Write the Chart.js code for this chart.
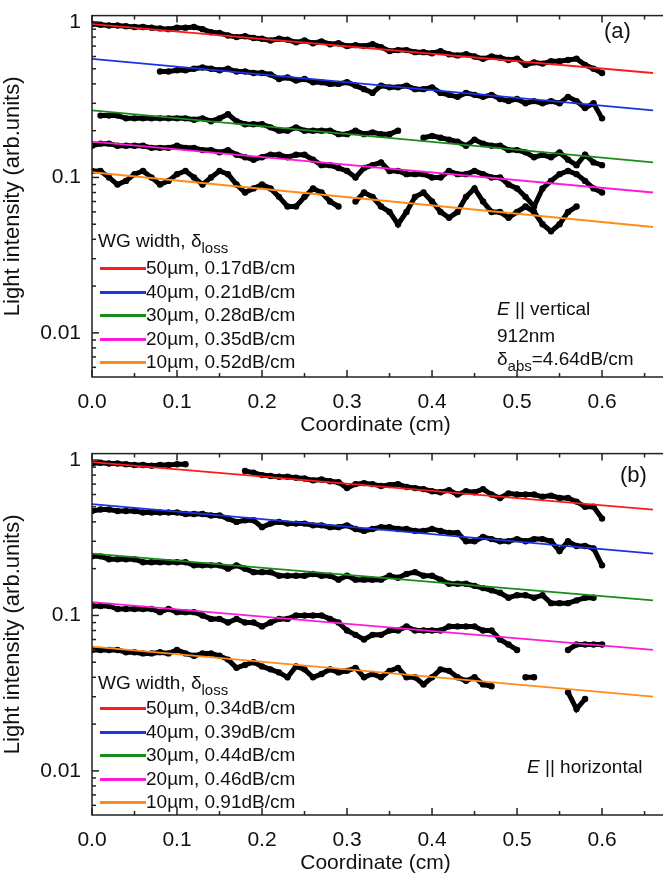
<!DOCTYPE html>
<html><head><meta charset="utf-8">
<script src="https://cdn.jsdelivr.net/npm/chart.js@4"></script>
<style>
body{margin:0;background:#fff;font-family:"Liberation Sans",Arial,sans-serif;}
.p{position:relative;width:663px;height:438px;}
.t{position:absolute;font-size:19px;color:#111;white-space:nowrap;line-height:22px;}
.l{position:absolute;height:3px;width:46px;}
sub{font-size:15px;vertical-align:-6px;line-height:0}
</style></head><body>
<div class="p"><canvas id="ca" width="663" height="438"></canvas>
<div class="t" style="left:604px;top:20px;font-size:22px">(a)</div>
<div class="t" style="left:98px;top:230px">WG width, δ<sub>loss</sub></div>
<div id="lega"></div>
<div class="t" style="left:497px;top:298px"><i>E</i> || vertical</div>
<div class="t" style="left:497px;top:325px">912nm</div>
<div class="t" style="left:497px;top:348px">δ<sub>abs</sub>=4.64dB/cm</div>
</div>
<div class="p"><canvas id="cb" width="663" height="438"></canvas>
<div class="t" style="left:620px;top:26px;font-size:22px">(b)</div>
<div class="t" style="left:98px;top:234px">WG width, δ<sub>loss</sub></div>
<div id="legb"></div>
<div class="t" style="left:527px;top:318px"><i>E</i> || horizontal</div>
</div>
<script>
var coords = [0,0.01,0.02,0.03,0.04,0.05,0.06,0.07,0.08,0.09,0.1,0.11,0.12,0.13,0.14,0.15,0.16,0.17,0.18,0.19,
  0.2,0.21,0.22,0.23,0.24,0.25,0.26,0.27,0.28,0.29,0.3,0.31,0.32,0.33,0.34,0.35,0.36,0.37,0.38,0.39,
  0.4,0.41,0.42,0.43,0.44,0.45,0.46,0.47,0.48,0.49,0.5,0.51,0.52,0.53,0.54,0.55,0.56,0.57,0.58,0.59,0.6];
var widths = ['50µm','40µm','30µm','20µm','10µm'];
var colors = ['#ff1a1a','#1a33e6','#1a8c1a','#ff1ad9','#ff8c1a'];
var lossA = ['0.17dB/cm','0.21dB/cm','0.28dB/cm','0.35dB/cm','0.52dB/cm'];
var lossB = ['0.34dB/cm','0.39dB/cm','0.44dB/cm','0.46dB/cm','0.91dB/cm'];
var fitX = [0, 0.66];
var fitA = [[0.97,0.47],[0.58,0.27],[0.27,0.125],[0.17,0.08],[0.108,0.048]];
var fitB = [[0.97,0.48],[0.52,0.25],[0.25,0.125],[0.122,0.06],[0.063,0.030]];
var n=null;
var measA = [
 [0.97,0.96,0.95,0.95,0.94,0.93,0.93,0.92,0.91,0.9,0.92,0.92,0.93,0.9,0.86,0.85,0.82,0.8,0.81,0.79,
  0.78,0.76,0.78,0.77,0.74,0.76,0.73,0.75,0.72,0.73,0.7,0.71,0.7,0.72,0.69,0.65,0.66,0.66,0.64,0.64,
  0.63,0.65,0.62,0.61,0.62,0.6,0.58,0.6,0.59,0.57,0.58,0.53,0.55,0.54,0.56,0.56,0.57,0.58,0.53,0.5,0.47],
 [n,n,n,n,n,n,n,n,0.48,0.48,0.49,0.49,0.5,0.51,0.5,0.49,0.5,0.48,0.48,0.47,
  0.47,0.46,0.43,0.44,0.42,0.43,0.41,0.41,0.4,0.4,0.41,0.39,0.37,0.35,0.39,0.38,0.38,0.39,0.37,0.37,
  0.38,0.35,0.34,0.33,0.35,0.34,0.33,0.34,0.32,0.31,0.32,0.3,0.31,0.3,0.31,0.3,0.33,0.31,0.28,0.3,0.24],
 [n,0.25,0.25,0.25,0.24,0.24,0.24,0.24,0.24,0.24,0.24,0.24,0.235,0.24,0.23,0.24,0.255,0.23,0.22,0.22,
  0.22,0.21,0.2,0.2,0.21,0.2,0.2,0.2,0.2,0.19,0.19,0.2,0.19,0.195,0.19,0.19,0.2,n,n,0.18,
  0.185,0.18,0.175,0.17,0.16,0.175,0.165,0.16,0.16,0.15,0.15,0.145,0.135,0.14,0.135,0.145,0.13,0.12,0.14,0.125,0.12],
 [0.16,0.165,0.165,0.16,0.16,0.16,0.16,0.155,0.155,0.155,0.16,0.155,0.155,0.15,0.15,0.145,0.15,0.14,0.135,0.13,
  0.135,0.14,0.14,0.135,0.14,0.14,0.13,0.12,0.12,0.115,0.11,0.1,0.115,0.12,0.125,0.11,0.11,0.105,0.105,0.105,
  0.1,0.1,0.11,0.105,0.105,0.11,0.105,0.1,0.1,0.09,0.085,0.075,0.065,0.085,0.095,0.105,0.11,0.105,0.095,0.085,0.08],
 [0.11,0.11,0.1,0.09,0.095,0.105,0.11,0.1,0.09,0.095,0.105,0.11,0.1,0.09,0.1,0.11,0.105,0.09,0.08,0.085,
  0.09,0.085,0.075,0.065,0.065,0.075,0.085,0.08,0.07,0.065,n,0.07,0.08,0.075,0.065,0.06,0.05,0.06,0.075,0.08,
  0.07,0.06,0.055,0.06,0.075,0.085,0.07,0.06,0.06,0.055,0.06,0.065,0.06,0.05,0.045,0.05,0.06,0.065,n,n,n]
];
var measB = [
 [0.95,0.96,0.95,0.95,0.94,0.93,0.93,0.92,0.93,0.93,0.94,0.94,n,n,n,n,n,n,0.85,0.83,
  0.8,0.79,0.78,0.78,0.77,0.76,0.74,0.75,0.73,0.72,0.66,0.7,0.71,0.7,0.68,0.69,0.7,0.67,0.66,0.65,
  0.63,0.62,0.64,0.6,0.63,0.62,0.65,0.6,0.57,0.61,0.6,0.6,0.6,0.58,0.59,0.57,0.57,0.54,0.5,0.5,0.42],
 [0.47,0.48,0.48,0.47,0.47,0.47,0.46,0.46,0.46,0.46,0.46,0.45,0.45,0.45,0.44,0.44,0.42,0.4,0.41,0.41,
  0.37,0.39,0.4,0.39,0.39,0.39,0.38,0.38,0.37,0.37,0.38,0.36,0.35,0.36,0.37,0.37,0.36,0.36,0.35,0.35,
  0.36,0.35,0.34,0.34,0.3,0.3,0.32,0.31,0.3,0.3,0.31,0.3,0.31,0.31,0.3,0.26,0.3,0.28,0.28,0.27,0.21],
 [0.24,0.24,0.23,0.23,0.23,0.23,0.22,0.22,0.22,0.22,0.22,0.22,0.21,0.21,0.21,0.21,0.2,0.21,0.2,0.19,
  0.19,0.19,0.18,0.18,0.18,0.18,0.185,0.18,0.18,0.17,0.18,0.17,0.17,0.17,0.17,0.18,0.175,0.185,0.19,0.18,
  0.18,0.17,0.16,0.16,0.16,0.155,0.15,0.145,0.14,0.13,0.135,0.135,0.13,0.135,0.12,0.12,0.12,0.125,0.13,0.13,n],
 [0.115,0.115,0.115,0.11,0.11,0.11,0.11,0.11,0.105,0.11,0.105,0.105,0.105,0.1,0.095,0.095,0.09,0.095,0.09,0.09,
  0.085,0.09,0.095,0.095,0.1,0.1,0.1,0.1,0.095,0.09,0.08,0.075,0.07,0.075,0.075,0.08,0.08,0.085,0.08,0.08,
  0.08,0.08,0.085,0.085,0.085,0.085,0.08,0.08,0.07,0.065,0.06,n,n,n,n,n,0.06,0.065,0.065,0.065,0.065],
 [0.06,0.06,0.06,0.06,0.058,0.058,0.057,0.057,0.058,0.057,0.06,0.057,0.055,0.057,0.057,0.055,0.052,0.046,0.048,0.05,
  0.047,0.045,0.043,0.04,0.047,0.045,0.04,0.042,0.045,0.043,0.044,0.046,0.04,0.042,0.04,0.044,0.046,0.04,0.04,0.036,
  0.04,0.045,0.044,0.04,0.038,0.04,0.036,0.035,n,n,n,0.04,0.04,n,n,n,0.032,0.025,0.029,n,n]
];

function legend(id, losses, top) {
  var h = '';
  for (var i = 0; i < 5; i++) {
    var y = top + i * 23.5;
    h += '<div class="l" style="left:100px;top:' + (y + 10) + 'px;background:' + colors[i] + '"></div>';
    h += '<div class="t" style="left:146px;top:' + y + 'px">' + widths[i] + ', ' + losses[i] + '</div>';
  }
  document.getElementById(id).innerHTML = h;
}
legend('lega', lossA, 257);
legend('legb', lossB, 259);

// inward ticks and frame
var frame = {
  id: 'frame',
  afterDraw: function(c) {
    var a = c.chartArea, g = c.ctx, xs = c.scales.x, ys = c.scales.y;
    g.save(); g.strokeStyle = '#222'; g.lineWidth = 1.5;
    g.strokeRect(a.left, a.top, a.right - a.left + 5, a.bottom - a.top);
    for (var v = 0; v <= 0.66; v += 0.05) {
      var px = xs.getPixelForValue(v), L = (Math.round(v * 100) % 10 == 0) ? 7 : 4;
      g.beginPath(); g.moveTo(px, a.bottom); g.lineTo(px, a.bottom - L);
      g.moveTo(px, a.top); g.lineTo(px, a.top + L); g.stroke();
    }
    [0.001, 0.01, 0.1, 1].forEach(function(d) {
      for (var k = 1; k < 10; k++) {
        var val = d * k; if (val < ys.min || val > ys.max) continue;
        var py = ys.getPixelForValue(val), L = k == 1 ? 7 : 4;
        g.beginPath(); g.moveTo(a.left, py); g.lineTo(a.left + L, py); g.stroke();
      }
    });
    g.restore();
  }
};

function make(id, meas, fits) {
  var ds = [];
  for (var i = 0; i < 5; i++) {
    ds.push({ data: coords.map(function(x, j) { return { x: x, y: meas[i][j] }; }),
      borderColor: '#000', backgroundColor: '#000', borderWidth: 5, pointRadius: 3.2,
      pointBorderWidth: 0, spanGaps: false, order: 2 });
    ds.push({ data: fitX.map(function(x, j) { return { x: x, y: fits[i][j] }; }),
      borderColor: colors[i], borderWidth: 1.8, pointRadius: 0, order: 1 });
  }
  new Chart(document.getElementById(id), {
    type: 'line',
    data: { datasets: ds },
    plugins: [frame],
    options: {
      responsive: false, animation: false,
      layout: { padding: { top: 13, right: 0, left: 0, bottom: 0 } },
      plugins: { legend: { display: false }, tooltip: { enabled: false } },
      scales: {
        x: { type: 'linear', min: 0, max: 0.667,
          afterBuildTicks: function(s) { s.ticks = [0,0.1,0.2,0.3,0.4,0.5,0.6].map(function(v){return {value:v};}); },
          ticks: { color: '#111', font: { size: 21, family: 'Liberation Sans' }, padding: 5,
            callback: function(v) { return v.toFixed(1); } },
          grid: { display: false }, border: { display: false },
          title: { display: true, text: 'Coordinate (cm)', color: '#111', padding: 0,
            font: { size: 21, family: 'Liberation Sans' } },
          afterFit: function(s) { s.height = 61; } },
        y: { type: 'logarithmic', min: 0.0052, max: 1.1,
          afterBuildTicks: function(s) { s.ticks = [0.01, 0.1, 1].map(function(v){return {value:v};}); },
          ticks: { color: '#111', font: { size: 21, family: 'Liberation Sans' }, padding: 3,
            callback: function(v) { return String(v); } },
          grid: { display: false }, border: { display: false },
          title: { display: true, text: 'Light intensity (arb.units)', color: '#111', padding: 0,
            font: { size: 22, family: 'Liberation Sans' } },
          afterFit: function(s) { s.width = 92; } }
      }
    }
  });
}
make('ca', measA, fitA);
make('cb', measB, fitB);
</script>
</body></html>
